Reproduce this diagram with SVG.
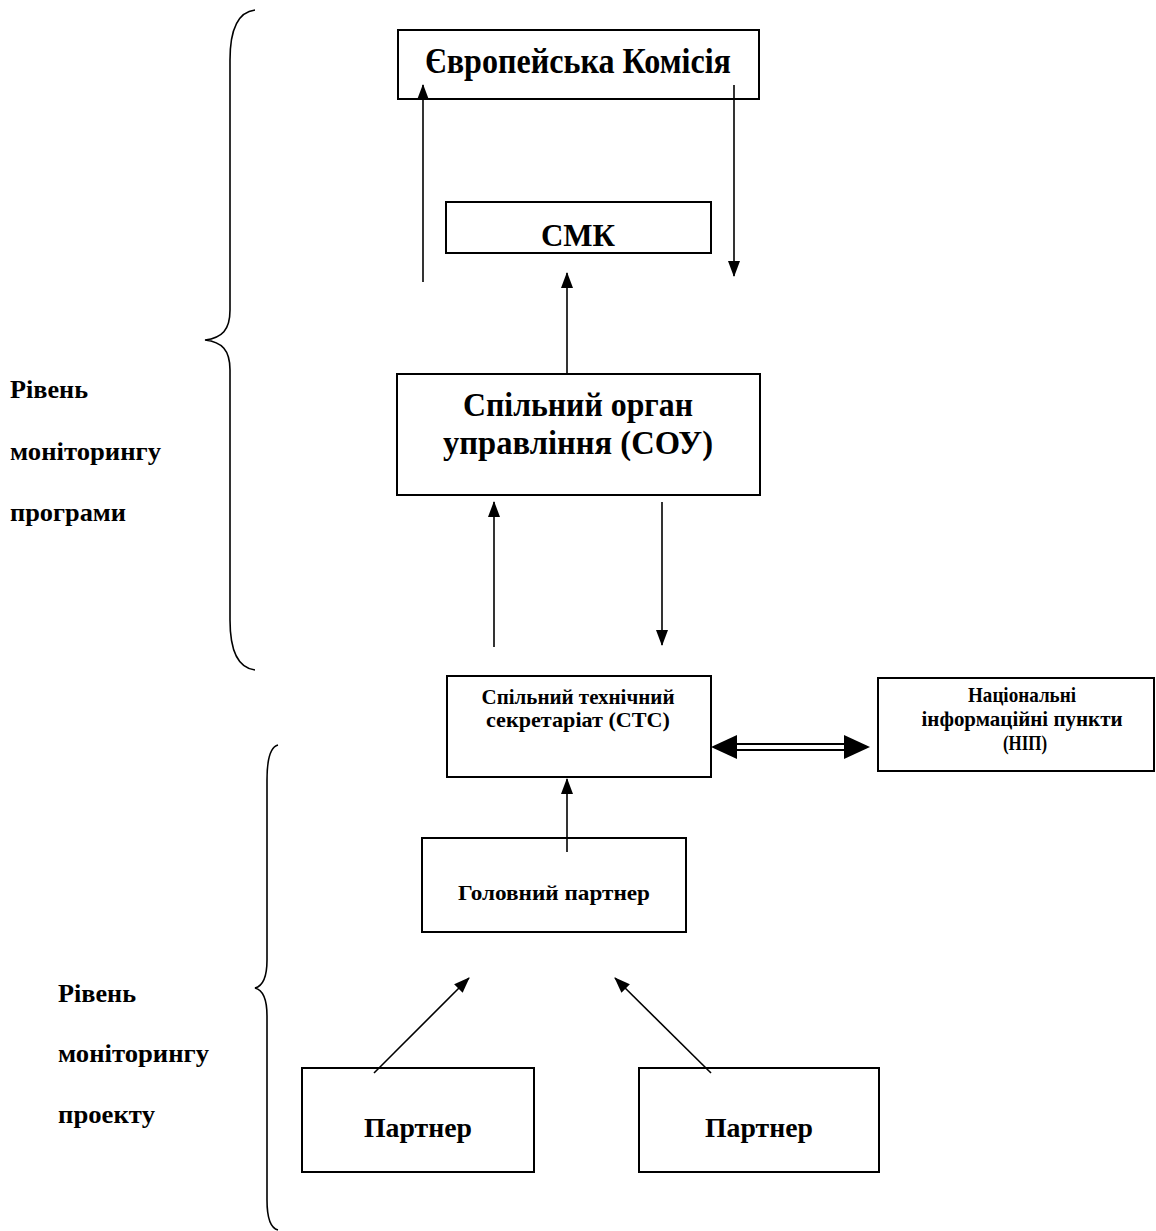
<svg xmlns="http://www.w3.org/2000/svg" width="1156" height="1231" viewBox="0 0 1156 1231">
<style>
.box{fill:#fff;stroke:#000;stroke-width:2}
.t{font-family:"Liberation Serif","Times New Roman",serif;font-weight:bold;fill:#000;text-anchor:middle}
.lbl{font-family:"Liberation Serif","Times New Roman",serif;font-weight:bold;fill:#000;font-size:25px}
.ln{stroke:#000;stroke-width:1.6;fill:none}
.br{stroke:#000;stroke-width:1.6;fill:none}
</style>
<defs>
<marker id="ah" markerUnits="userSpaceOnUse" markerWidth="16" markerHeight="14" viewBox="0 0 16 14" refX="15" refY="7" orient="auto">
<path d="M0,1 L16,7 L0,13 Z" fill="#000"/>
</marker>
</defs>
<rect width="1156" height="1231" fill="#fff"/>

<g id="braces">
<path class="br" d="M255,10 C238,12 230,30 230,60 L230,310 C230,330 222,338 205,340 C222,342 230,350 230,370 L230,620 C230,650 238,668 255,670"/>
<path class="br" d="M278,745 C270,747 267,760 267,780 L267,960 C267,978 263,986 255,988 C263,990 267,998 267,1016 L267,1200 C267,1218 270,1228 278,1230"/>
</g>

<g id="label-program">
<text class="lbl" x="10" y="398" textLength="78" lengthAdjust="spacingAndGlyphs">Рівень</text>
<text class="lbl" x="10" y="460" textLength="151" lengthAdjust="spacingAndGlyphs">моніторингу</text>
<text class="lbl" x="10" y="521" textLength="116" lengthAdjust="spacingAndGlyphs">програми</text>
</g>
<g id="label-project">
<text class="lbl" x="58" y="1002" textLength="78" lengthAdjust="spacingAndGlyphs">Рівень</text>
<text class="lbl" x="58" y="1062" textLength="151" lengthAdjust="spacingAndGlyphs">моніторингу</text>
<text class="lbl" x="58" y="1123" textLength="97" lengthAdjust="spacingAndGlyphs">проекту</text>
</g>

<g id="node-ek">
<rect class="box" x="398" y="30" width="361" height="69"/>
<text class="t" x="578" y="73" font-size="35" textLength="306" lengthAdjust="spacingAndGlyphs">Європейська Комісія</text>
</g>
<g id="node-smk">
<rect class="box" x="446" y="202" width="265" height="51"/>
<text class="t" x="578" y="246" font-size="31">СМК</text>
</g>
<g id="node-sou">
<rect class="box" x="397" y="374" width="363" height="121"/>
<text class="t" x="578" y="416" font-size="34" textLength="230" lengthAdjust="spacingAndGlyphs">Спільний орган</text>
<text class="t" x="578" y="454" font-size="34" textLength="270" lengthAdjust="spacingAndGlyphs">управління (СОУ)</text>
</g>
<g id="node-sts">
<rect class="box" x="447" y="676" width="264" height="101"/>
<text class="t" x="578" y="704" font-size="21" textLength="193" lengthAdjust="spacingAndGlyphs">Спільний технічний</text>
<text class="t" x="578" y="727" font-size="21" textLength="184" lengthAdjust="spacingAndGlyphs">секретаріат (СТС)</text>
</g>
<g id="node-nip">
<rect class="box" x="878" y="678" width="276" height="93"/>
<text class="t" x="1022" y="702" font-size="21" textLength="108" lengthAdjust="spacingAndGlyphs">Національні</text>
<text class="t" x="1022" y="726" font-size="21" textLength="201" lengthAdjust="spacingAndGlyphs">інформаційні пункти</text>
<text class="t" x="1025" y="750" font-size="21" textLength="44" lengthAdjust="spacingAndGlyphs">(НІП)</text>
</g>
<g id="node-lead">
<rect class="box" x="422" y="838" width="264" height="94"/>
<text class="t" x="554" y="900" font-size="21" textLength="192" lengthAdjust="spacingAndGlyphs">Головний партнер</text>
</g>
<g id="node-partner1">
<rect class="box" x="302" y="1068" width="232" height="104"/>
<text class="t" x="418" y="1137" font-size="27" textLength="108" lengthAdjust="spacingAndGlyphs">Партнер</text>
</g>
<g id="node-partner2">
<rect class="box" x="639" y="1068" width="240" height="104"/>
<text class="t" x="759" y="1137" font-size="27" textLength="108" lengthAdjust="spacingAndGlyphs">Партнер</text>
</g>

<g id="connectors">
<line class="ln" x1="423" y1="282" x2="423" y2="85" marker-end="url(#ah)"/>
<line class="ln" x1="734" y1="85" x2="734" y2="276" marker-end="url(#ah)"/>
<line class="ln" x1="567" y1="374" x2="567" y2="273" marker-end="url(#ah)"/>
<line class="ln" x1="494" y1="647" x2="494" y2="502" marker-end="url(#ah)"/>
<line class="ln" x1="662" y1="502" x2="662" y2="645" marker-end="url(#ah)"/>
<line class="ln" x1="567" y1="852" x2="567" y2="779" marker-end="url(#ah)"/>
<line class="ln" x1="374" y1="1073" x2="469" y2="978" marker-end="url(#ah)"/>
<line class="ln" x1="711" y1="1073" x2="615" y2="978" marker-end="url(#ah)"/>
<g id="double-arrow">
<line stroke="#000" stroke-width="2" x1="730" y1="744" x2="850" y2="744"/>
<line stroke="#000" stroke-width="2" x1="730" y1="750" x2="850" y2="750"/>
<polygon points="711,747 737,735 737,759" fill="#000"/>
<polygon points="870,747 844,735 844,759" fill="#000"/>
</g>
</g>
</svg>
